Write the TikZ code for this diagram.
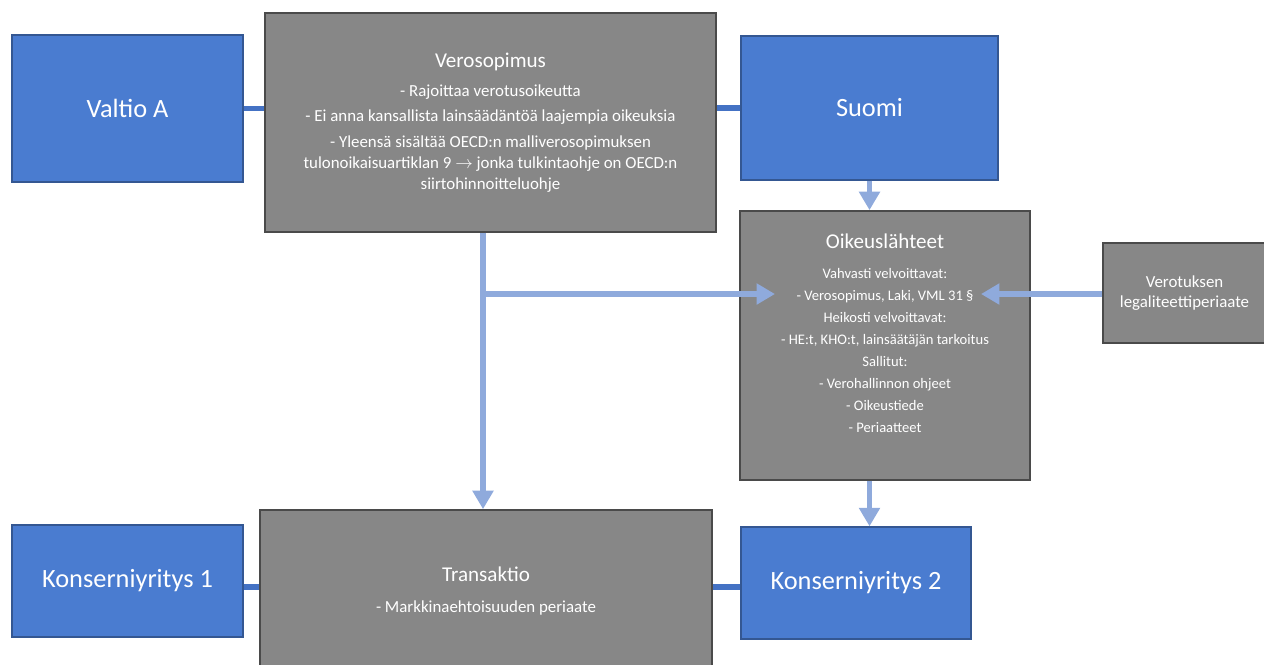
\documentclass[tikz,border=0pt]{standalone}
\usepackage{fontspec}
\setmainfont{Carlito}
\usetikzlibrary{arrows.meta}
\definecolor{maasini}{HTML}{4A7CD0}
\definecolor{laatikkoharmaa}{HTML}{878787}
\definecolor{yhteyssini}{HTML}{4472C4}
\definecolor{nuolisini}{HTML}{8FAADC}
\newcommand{\otsikkofont}{\fontsize{12}{14}\selectfont}
\tikzset{
	maa/.style={fill=maasini,draw=maasini!70!black,line width=0.8pt,text=white,font=\fontsize{15}{18}\selectfont,inner sep=0pt},
	harmaa/.style={fill=laatikkoharmaa,draw=laatikkoharmaa!55!black,line width=1pt,text=white,align=center,inner sep=0pt},
	teksti/.style={text=white,align=center,inner sep=0pt},
	yhteys/.style={draw=yhteyssini,line width=3.2pt},
	nuoli/.style={draw=nuolisini,line width=3.2pt,-{Triangle[width=11.5pt,length=10.5pt]}},
}
\begin{document}
\begin{tikzpicture}[x=0.02cm,y=-0.02cm]
	\useasboundingbox (0,0) rectangle (1264,664);
	\node[maa,minimum width=4.62cm,minimum height=2.94cm] (valtio) at (127.5,108.5) {Valtio A};
	\node[harmaa,minimum width=9.02cm,minimum height=4.38cm,font=\fontsize{9.6}{10.8}\selectfont] (vero) at (490.5,122.5) {{\otsikkofont Verosopimus}\\[6pt]
		- Rajoittaa verotusoikeutta\\[3pt]
		- Ei anna kansallista lainsäädäntöä laajempia oikeuksia\\[4.5pt]
		- Yleensä sisältää OECD:n malliverosopimuksen\\[1pt]
		tulonoikaisuartiklan 9 $\rightarrow$ jonka tulkintaohje on OECD:n\\[1pt]
		siirtohinnoitteluohje};
	\node[maa,minimum width=5.14cm,minimum height=2.88cm] (suomi) at (869.5,108) {Suomi};
	\node[harmaa,minimum width=5.8cm,minimum height=5.38cm] (oik) at (885,345.5) {};
	\node[teksti,font=\fontsize{8.3}{12.5}\selectfont] (oikteksti) at (885,333) {{\otsikkofont Oikeuslähteet}\\[5pt]
		Vahvasti velvoittavat:\\
		- Verosopimus, Laki, VML 31 §\\
		Heikosti velvoittavat:\\
		- HE:t, KHO:t, lainsäätäjän tarkoitus\\
		Sallitut:\\
		- Verohallinnon ohjeet\\
		- Oikeustiede\\
		- Periaatteet};
	\node[harmaa,minimum width=3.26cm,minimum height=2cm,font=\fontsize{9.6}{11}\selectfont] (verot) at (1184.5,293) {Verotuksen\\legaliteettiperiaate};
	\node[maa,minimum width=4.62cm,minimum height=2.24cm] (k1) at (127.5,581) {Konserniyritys 1};
	\node[harmaa,minimum width=9.04cm,minimum height=3.24cm,font=\fontsize{9.6}{10.8}\selectfont] (trans) at (486,591) {{\otsikkofont Transaktio}\\[6.5pt]
		- Markkinaehtoisuuden periaate};
	\node[maa,minimum width=4.6cm,minimum height=2.24cm] (k2) at (856,583) {Konserniyritys 2};
	\coordinate (haara) at (483,294);
	\coordinate (vahvaL) at (775,294);
	\coordinate (vahvaR) at (981,294);
	\coordinate (kauppa) at (486,587);
	\draw[yhteys] (valtio.east) -- (valtio.east -| vero.west);
	\draw[yhteys] (vero.east |- suomi.west) -- (suomi.west);
	\draw[yhteys] (k1.east |- kauppa) -- (trans.west |- kauppa);
	\draw[yhteys] (trans.east |- kauppa) -- (k2.west |- kauppa);
	\draw[nuoli] (suomi.south) -- (suomi.south |- oik.north);
	\draw[nuoli] (vero.south -| haara) -- (trans.north -| haara);
	\draw[nuoli] (haara) -- (vahvaL);
	\draw[nuoli] (verot.west |- vahvaR) -- (vahvaR);
	\draw[nuoli] (suomi.south |- oik.south) -- (suomi.south |- k2.north);
\end{tikzpicture}
\end{document}
